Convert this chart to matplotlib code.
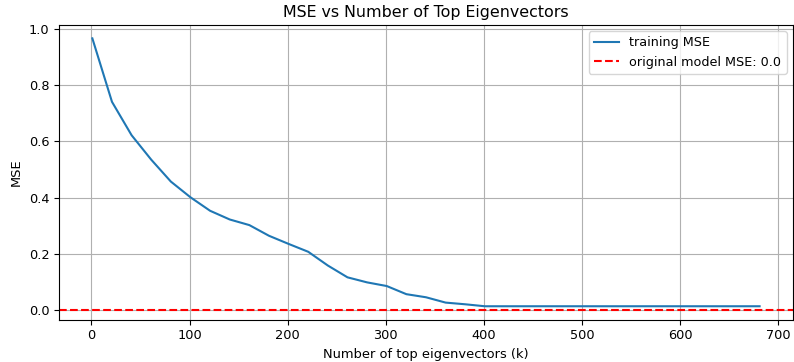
import numpy as np
import matplotlib
matplotlib.use('Agg')
import matplotlib.pyplot as plt

# number of top eigenvectors used
k_values = list(range(1, 682, 20))

# training MSE
train_mse = [0.967, 0.741, 0.622, 0.535, 0.457, 0.401, 0.353, 0.322, 0.302, 0.264,
             0.235, 0.207, 0.158, 0.116, 0.098, 0.085, 0.056, 0.045, 0.026, 0.020,
             0.013, 0.013, 0.013, 0.013, 0.013, 0.013, 0.013, 0.013, 0.013, 0.013,
             0.013, 0.013, 0.013, 0.013, 0.013]

original_mse = 0.0

plt.rcParams['font.size'] = 9.4
plt.rcParams['xtick.labelsize'] = 9.3
plt.rcParams['ytick.labelsize'] = 9.3

plt.figure(figsize=(7.94, 3.62), dpi=100)
plt.plot(k_values, train_mse, label='training MSE')
plt.axhline(original_mse, color='r', linestyle='--', label='original model MSE: ' + str(original_mse))
plt.title('MSE vs Number of Top Eigenvectors', fontsize=11.4)
plt.xlabel('Number of top eigenvectors (k)')
plt.ylabel('MSE')
plt.grid(True)
plt.legend(fontsize=9.2)
plt.subplots_adjust(left=0.0743, right=0.9987, top=0.931, bottom=0.117)
plt.savefig('out.png')
